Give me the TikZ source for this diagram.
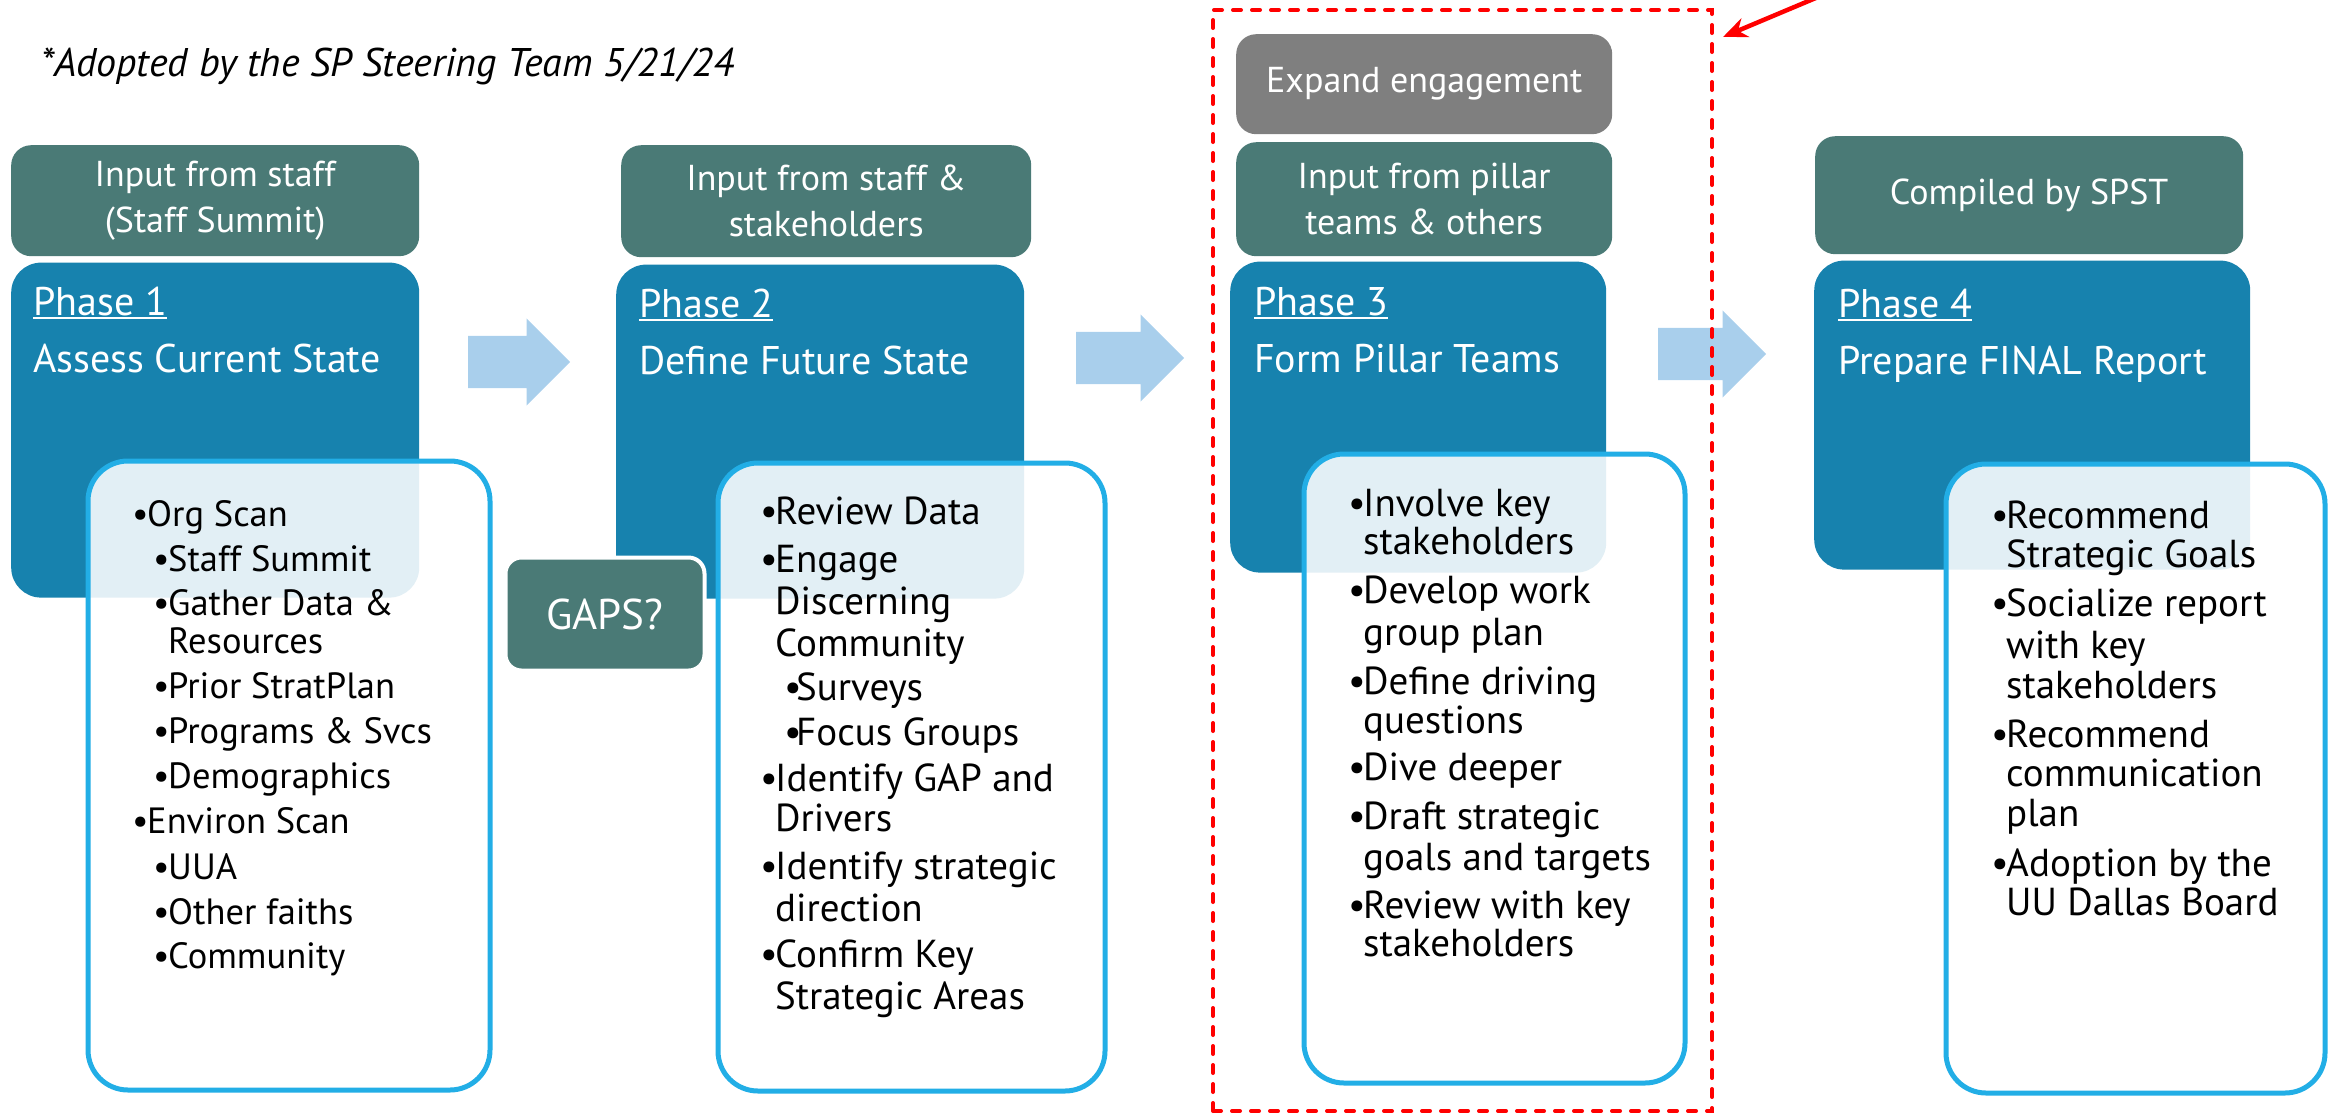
\documentclass[tikz,border=0pt]{standalone}
\usepackage{fontspec}
\setmainfont{PT Sans}
\usepackage{tikz}
\usetikzlibrary{positioning,shapes.arrows,arrows.meta}

\definecolor{hdrteal}{HTML}{4A7A76}
\definecolor{phaseblue}{HTML}{1782AE}
\definecolor{expgray}{HTML}{7F7F7F}
\definecolor{flowblue}{HTML}{A9CFEC}
\definecolor{listblue}{HTML}{22AEE6}

\newlength{\bulw}\setlength{\bulw}{15pt}
\newcommand{\itm}{\makebox[\bulw][l]{\textbullet}}
\newcommand{\cnt}{\hspace*{\bulw}}
\newcommand{\sitm}{\hspace*{21pt}\itm}
\newcommand{\scnt}{\hspace*{21pt}\cnt}
\newcommand{\phaseul}[1]{\setbox0\hbox{#1}\rlap{\rule[-4pt]{\wd0}{2pt}}\box0}

\begin{document}
\begin{tikzpicture}[
    x=1pt, y=-1pt,
    font=\fontsize{37}{40}\selectfont,
    hdr/.style={
		rounded corners=20pt,
		fill=hdrteal,
		text=white,
		align=center,
		inner sep=0pt,
		anchor=north west,
		font=\fontsize{36}{46}\selectfont
	},
	phase/.style={
		rounded corners=30pt,
		fill=phaseblue,
		inner sep=0pt,
		anchor=north west
	},
	phtitle/.style={
		text=white,
		align=left,
		inner sep=0pt,
		anchor=base west,
		font=\fontsize{40}{44}\selectfont
	},
	lst/.style={
		rounded corners=40pt,
		draw=listblue,
		line width=5pt,
		fill=white,
		fill opacity=0.88,
		inner sep=0pt,
		anchor=north west
	},
	items/.style={
		align=left,
		inner sep=0pt,
		anchor=base west,
		text=black
	},
	flow/.style={
		single arrow,
		fill=flowblue,
		inner sep=0pt,
		text height=26pt,
		text depth=26pt,
		single arrow head extend=17.5pt,
		minimum width=87pt,
		anchor=tail
	},
	gapbox/.style={
		rounded corners=16pt,
		fill=hdrteal,
		draw=white,
		line width=4pt,
		text=white,
		inner sep=0pt,
		anchor=north west,
		font=\fontsize{43}{44}\selectfont
	},
	focusbox/.style={
		draw=red,
		line width=4pt,
		dash pattern=on 8pt off 11pt,
		line cap=round,
		inner sep=0pt,
		outer sep=0pt,
		anchor=north west
	}
  ]
  \useasboundingbox (0,0) rectangle (2336,1114);

  \node [anchor=base west, inner sep=0pt, font=\fontsize{40}{40}\selectfont\itshape] (note) at (41,76)
    {*Adopted by the SP Steering Team 5/21/24};

  % headers above the phases
  \node [hdr, minimum width=408pt, minimum height=111pt] (hdr1) at (11,145) {Input from staff\\(Staff Summit)};
  \node [hdr, minimum width=410pt, minimum height=112pt] (hdr2) at (621,145) {Input from staff \&\\stakeholders};
  \node [hdr, fill=expgray, minimum width=376pt, minimum height=100pt] (expand) at (1236,34) {Expand engagement};
  \node [hdr, minimum width=376pt, minimum height=114pt] (hdr3) at (1236,142) {Input from pillar\\teams \& others};
  \node [hdr, minimum width=428pt, minimum height=118pt] (hdr4) at (1815,136) {Compiled by SPST};

  % phase blocks
  \node [phase, below=6pt of hdr1.south west, anchor=north west, minimum width=408pt, minimum height=335pt] (ph1) {};
  \node [phase, below=7pt of hdr2.south west, anchor=north west, xshift=-5pt, minimum width=408pt, minimum height=334pt] (ph2) {};
  \node [phase, below=5pt of hdr3.south west, anchor=north west, xshift=-6pt, minimum width=376pt, minimum height=311pt] (ph3) {};
  \node [phase, below=6pt of hdr4.south west, anchor=north west, xshift=-1pt, minimum width=436pt, minimum height=309pt] (ph4) {};

  \node [phtitle] (ph1t) at ([xshift=22pt, yshift=-110pt]ph1.north west) {\phaseul{Phase 1}\\[13pt]Assess Current State};
  \node [phtitle] (ph2t) at ([xshift=23pt, yshift=-110pt]ph2.north west) {\phaseul{Phase 2}\\[13pt]Define Future State};
  \node [phtitle] (ph3t) at ([xshift=24pt, yshift=-111pt]ph3.north west) {\phaseul{Phase 3}\\[13pt]Form Pillar Teams};
  \node [phtitle] (ph4t) at ([xshift=24pt, yshift=-114pt]ph4.north west) {\phaseul{Phase 4}\\[13pt]Prepare FINAL Report};

  % lists
  \node [lst, minimum width=402pt, minimum height=629pt] (lst1) at (85.5,458.5) {};
  \node [lst, minimum width=387pt, minimum height=628pt] (lst2) at (715.5,460.5) {};
  \node [lst, minimum width=381pt, minimum height=629pt] (lst3) at (1301.5,451.5) {};
  \node [lst, minimum width=379pt, minimum height=629pt] (lst4) at (1943.5,461.5) {};

  \node [items, font=\fontsize{36.5}{38}\selectfont] (lst1t) at (132,968) {%
  \itm Org Scan\\[7pt]
  \sitm Staff Summit\\[6pt]
  \sitm Gather Data \&\\
  \scnt Resources\\[7pt]
  \sitm Prior StratPlan\\[7pt]
  \sitm Programs \& Svcs\\[7pt]
  \sitm Demographics\\[7pt]
  \itm Environ Scan\\[8pt]
  \sitm UUA\\[7pt]
  \sitm Other faiths\\[6pt]
  \sitm Community};

  \node [items, font=\fontsize{39}{42}\selectfont] (lst2t) at (760,1009) {%
  \itm Review Data\\[6pt]
  \itm Engage\\
  \cnt Discerning\\
  \cnt Community\\[2pt]
  \hspace*{24pt}\makebox[12pt][l]{\textbullet}Surveys\\[3pt]
  \hspace*{24pt}\makebox[12pt][l]{\textbullet}Focus Groups\\[4pt]
  \itm Identify GAP and\\[-2pt]
  \cnt Drivers\\[6pt]
  \itm Identify strategic\\
  \cnt direction\\[4pt]
  \itm Confirm Key\\
  \cnt Strategic Areas};

  \node [items, font=\fontsize{39}{40}\selectfont] (lst3t) at (1348,956) {%
  \itm Involve key\\[-2pt]
  \cnt stakeholders\\[9pt]
  \itm Develop work\\[2pt]
  \cnt group plan\\[9pt]
  \itm Define driving\\[-1pt]
  \cnt questions\\[7pt]
  \itm Dive deeper\\[9pt]
  \itm Draft strategic\\[1pt]
  \cnt goals and targets\\[8pt]
  \itm Review with key\\[-2pt]
  \cnt stakeholders};

  \node [items, font=\fontsize{39}{40}\selectfont] (lst4t) at (1991,915) {%
  \itm Recommend\\[-1pt]
  \cnt Strategic Goals\\[9pt]
  \itm Socialize report\\[2pt]
  \cnt with key\\
  \cnt stakeholders\\[9pt]
  \itm Recommend\\[-1pt]
  \cnt communication\\
  \cnt plan\\[10pt]
  \itm Adoption by the\\[-1pt]
  \cnt UU Dallas Board};

  \node [gapbox, minimum width=199pt, minimum height=113pt] (gaps) at (503.5,555.5) {GAPS?};

  % arrows between phases
  \node [flow, minimum height=102pt] (flow1) at (468,362) {};
  \node [flow, minimum height=108pt] (flow2) at (1076,358) {};
  \node [flow, minimum height=108pt] (flow3) at (1658,354) {};

  \node [focusbox, minimum width=499pt, minimum height=1101pt] (focus) at (1213,10) {};
  \coordinate (redtail) at (1830,-8);
  \draw [red, line width=4.5pt, -{Stealth[length=24pt,width=20pt]}] (redtail) -- ([xshift=11pt, yshift=-27pt]focus.north east);

\end{tikzpicture}
\end{document}
